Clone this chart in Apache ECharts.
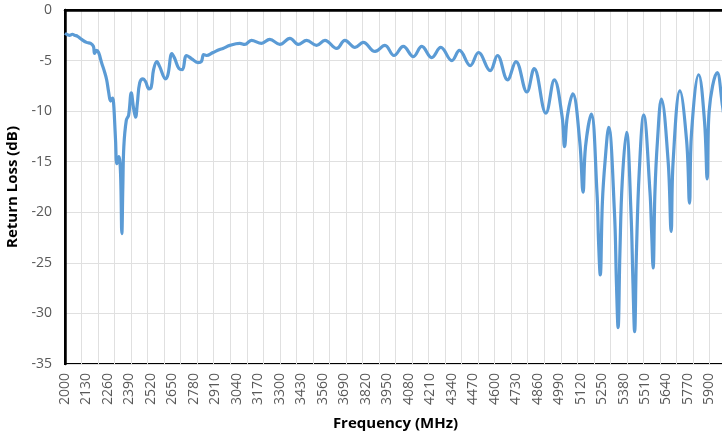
<!DOCTYPE html>
<html>
<head>
<meta charset="utf-8">
<script src="https://cdn.jsdelivr.net/npm/echarts@6/dist/echarts.min.js"></script>
<style>
html,body{margin:0;padding:0;background:#fff;}
#chart{width:722px;height:439px;}
</style>
</head>
<body>
<div id="chart"></div>
<script>
// Frequency (MHz) of traced points
const freqMHz = [
  2000, 2027, 2045, 2058, 2076, 2100, 2130, 2155, 2172, 2179, 2191, 2203, 2221, 2239, 2252, 2264,
  2276, 2288, 2294, 2300, 2306, 2314, 2326, 2336, 2344, 2350, 2356, 2371, 2385, 2401, 2415, 2427,
  2438, 2452, 2472, 2488, 2508, 2522, 2536, 2556, 2573, 2609, 2623, 2647, 2664, 2690, 2710, 2735,
  2765, 2805, 2825, 2839, 2856, 2896, 2936, 2956, 2997, 3058, 3088, 3128, 3189, 3239, 3300, 3361,
  3411, 3462, 3522, 3573, 3644, 3694, 3755, 3805, 3876, 3936, 3991, 4047, 4108, 4159, 4219, 4274,
  4341, 4387, 4452, 4502, 4573, 4617, 4678, 4729, 4795, 4839, 4910, 4961,
  5008, 5023, 5040, 5073,
  5115, 5135, 5150, 5185,
  5219, 5229, 5239, 5252, 5268, 5290,
  5325, 5337, 5347, 5358, 5372, 5398,
  5425, 5437, 5447, 5458, 5475, 5502,
  5540, 5550, 5559, 5570, 5585, 5609,
  5650, 5668, 5680, 5721,
  5762, 5779, 5792, 5835,
  5870, 5886, 5898, 5947, 5979, 6000
];
// Return loss (dB) at those points
const returnLossDb = [
  -2.3, -2.5, -2.4, -2.5, -2.6, -2.9, -3.2, -3.3, -3.6, -4.3, -4.0, -4.2, -5.2, -6.1, -6.9, -8.1,
  -9.0, -8.7, -9.2, -10.9, -12.9, -15.2, -14.5, -16.1, -22.1, -17.5, -13.5, -10.9, -10.4, -8.2, -9.7, -10.6,
  -9.2, -7.2, -6.8, -7.1, -7.8, -7.6, -5.9, -5.1, -5.6, -6.8, -6.4, -4.3, -4.8, -5.8, -5.9, -4.5,
  -4.8, -5.2, -5.1, -4.4, -4.5, -4.2, -3.9, -3.8, -3.5, -3.3, -3.4, -3.0, -3.3, -2.9, -3.4, -2.8,
  -3.4, -3.0, -3.5, -3.0, -3.8, -3.0, -3.7, -3.2, -4.1, -3.5, -4.5, -3.6, -4.6, -3.6, -4.7, -3.7,
  -5.0, -4.0, -5.5, -4.2, -6.0, -4.5, -6.9, -5.1, -8.1, -5.8, -10.2, -6.9,
  -10.5, -13.5, -10.5, -8.3,
  -13.0, -18.0, -13.5, -10.3,
  -18.0, -23.0, -26.2, -19.0, -15.0, -11.6,
  -20.0, -27.0, -31.4, -24.0, -17.0, -12.1,
  -20.0, -27.0, -31.8, -24.0, -16.0, -10.4,
  -18.0, -22.0, -25.5, -18.0, -13.0, -8.8,
  -15.0, -21.9, -15.0, -8.0,
  -13.0, -19.1, -12.0, -6.4,
  -11.0, -16.7, -10.0, -6.2, -9.5, -12.0
];
// Category tick labels (10 MHz steps)
const freqStart = 2000, freqEnd = 6000, freqStep = 10;
const freqCategories = [];
for (let f = freqStart; f <= freqEnd; f += freqStep) freqCategories.push(String(f));
const yTicks = { min: -35, max: 0, step: 5 };

const seriesData = freqMHz.map((f, i) => [f, returnLossDb[i]]);

const chart = echarts.init(document.getElementById('chart'), null, { renderer: 'canvas' });
const labelFont = '"Open Sans", "DejaVu Sans", sans-serif';
chart.setOption({
  animation: false,
  backgroundColor: '#ffffff',
  grid: {
    left: 65, right: -4, top: 10, bottom: 75,
    containLabel: false,
    outerBoundsMode: 'none',
    show: true, borderColor: '#000000', borderWidth: 2, backgroundColor: 'transparent'
  },
  xAxis: [
    {
      type: 'category',
      data: freqCategories,
      boundaryGap: false,
      name: 'Frequency (MHz)',
      nameLocation: 'middle',
      nameGap: 52,
      nameTextStyle: { color: '#000000', fontWeight: 'bold', fontSize: 15, fontFamily: labelFont },
      axisLine: { show: true, lineStyle: { color: '#000000', width: 2.5 } },
      axisTick: { show: false },
      axisLabel: { interval: 12, rotate: 90, color: '#595959', fontSize: 14, margin: 9, fontFamily: labelFont },
      splitLine: { show: true, interval: 9, lineStyle: { color: '#e0e0e0', width: 1 } }
    },
    {
      type: 'value',
      min: freqStart,
      max: freqEnd,
      show: false,
      splitLine: { show: false }
    }
  ],
  yAxis: {
    type: 'value',
    min: yTicks.min,
    max: yTicks.max,
    interval: yTicks.step,
    name: 'Return Loss (dB)',
    nameLocation: 'middle',
    nameGap: 43,
    nameTextStyle: { color: '#000000', fontWeight: 'bold', fontSize: 15, fontFamily: labelFont },
    axisLine: { show: true, lineStyle: { color: '#000000', width: 2.5 } },
    axisTick: { show: false },
    axisLabel: { color: '#595959', fontSize: 14, margin: 13, fontFamily: labelFont },
    splitLine: { show: true, lineStyle: { color: '#e0e0e0', width: 1 } }
  },
  series: [{
    type: 'line',
    xAxisIndex: 1,
    data: seriesData,
    symbol: 'none',
    smooth: 0.4,
    lineStyle: { color: '#5B9BD5', width: 3.2 },
    itemStyle: { color: '#5B9BD5' }
  }]
});
</script>
</body>
</html>
